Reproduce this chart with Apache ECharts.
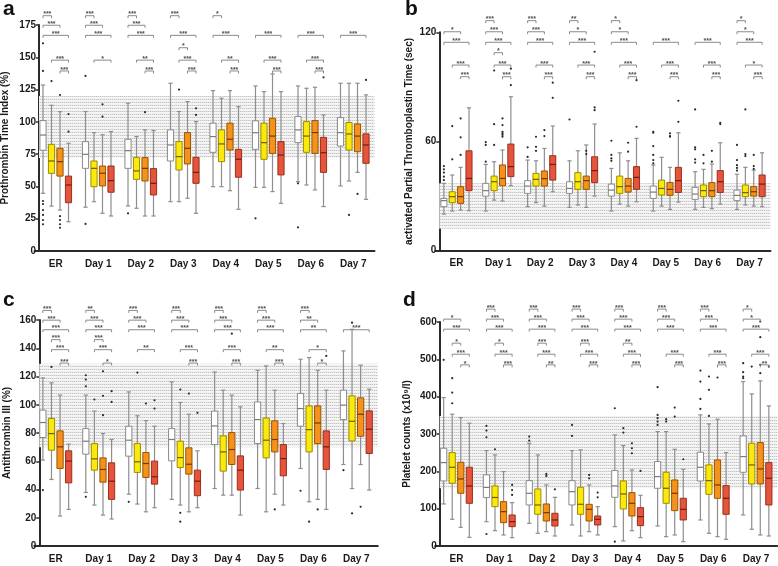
<!DOCTYPE html>
<html><head><meta charset="utf-8">
<script src="https://cdn.jsdelivr.net/npm/echarts@6/dist/echarts.min.js"></script>
<style>html,body{margin:0;padding:0;background:#fff}#c{width:778px;height:566px}</style>
</head><body><div id="c"></div>
<script>
const categories = ['ER','Day 1','Day 2','Day 3','Day 4','Day 5','Day 6','Day 7'];
// box stats: [min, q1, median, q3, max]
// ---- a: Prothrombin Time Index (%)
const ptiTicks = [0,25,50,75,100,125,150,175];
const ptiRange = [72,120];
const ptiWhite = [[44.7,78,89.8,101,128.5],[33.9,64,74.9,84.7,108],[34.9,64,77.7,86.5,114.4],[38.2,69.7,82.1,93.8,129.9],[49.8,76.4,88.6,99,124.2],[49.3,78.7,91.6,100.8,127.8],[53.7,83.9,93.8,104.1,127.8],[50.4,81.3,91.7,103.3,129.9]];
const ptiYellow = [[34.8,60.1,69.7,82.6,112.8],[38.2,49.8,64,69.7,91.7],[33.1,55.5,62,72.5,88.6],[38.2,62.7,73.1,84.7,108],[49.8,69.2,82.9,93.8,118.3],[49.3,71,83.9,99,123.4],[51.1,76.4,89,100.2,126],[54.2,78.2,90.6,99.5,129.9]];
const ptiOrange = [[31.7,58,69.2,79.5,107.9],[29.2,50.4,60.2,65.8,90],[27.1,54.2,64,72.3,93.8],[40.8,67.4,79.5,91.7,115.7],[46.7,78.2,86.5,99,124.2],[46,75.6,89,102.8,137.1],[47.3,75.6,91.7,101,126.8],[60.9,76.9,89,98.4,129.9]];
const ptiRed = [[22.7,37.4,51.1,58,83.4],[27.1,45.5,54.5,65.8,92.5],[27.1,43.4,52.4,63.8,93.3],[29.2,52.4,60.9,72.5,100.2],[32.3,57.1,71,78.7,111.8],[36.9,58.9,74.3,84.7,123.4],[34.4,60.9,76.1,88,105.4],[40,67.9,82.1,90.7,120.9]];
// outliers: [category, group, value]
const ptiOutliers = [[0,0,160.8],[0,0,139.4],[0,0,38.7],[0,0,36.4],[0,0,31.7],[0,0,27.9],[0,0,24],[0,0,20.7],[1,0,135.6],[1,0,21],[2,0,29.2],[5,0,25.3],[6,0,52.4],[6,0,18.3],
 [0,1,131.6],[3,1,125],[7,1,27.9],
 [0,2,120.8],[0,2,27],[0,2,24],[0,2,20.7],[0,2,18],[1,2,113.6],[1,2,104],[2,2,107.5],[7,2,44.2],
 [0,3,106],[0,3,92.4],[3,3,110.5],[3,3,105.4],[6,3,134.5],[7,3,132.5]];
// significance: [category, pair, stars]; pairs: 0 W-Y,1 W-O,2 W-R,3 Y-O,4 Y-R,5 O-R
const ptiRows = [182.2,174.8,167,157.4,147.8,139.4];
const ptiSig = [[0,0,3],[0,1,3],[0,2,3],[0,4,3],[0,5,3],
 [1,0,3],[1,1,3],[1,2,3],[1,4,1],
 [2,0,3],[2,1,3],[2,2,3],[2,4,2],[2,5,3],
 [3,0,3],[3,2,3],[3,3,1],[3,4,3],[3,5,3],
 [4,0,1],[4,2,3],[4,4,2],[4,5,3],
 [5,2,3],[5,4,3],[5,5,3],
 [6,2,3],[6,4,3],[6,5,3],
 [7,2,3]];

// ---- b: aPTT (sec)
const apttTicks = [0,60,120];
const apttRange = [12,37];
const apttWhite = [[20.1,24.2,27.5,28.7,37],[21.8,30,33,37,47.4],[24.2,31.5,35.5,38.5,49.8],[23.8,31.5,34.2,37.9,49.4],[21.8,30,33.3,36.6,45.2],[21.8,28.7,32.2,35.5,47.1],[22.7,28.2,31.1,34.8,43.4],[22.7,27.5,30.4,33.3,42]];
const apttYellow = [[21.8,26.4,29.7,32.4,41.6],[27.8,33,37.9,41,48.9],[26.4,35.5,39.2,42.5,49.4],[25.1,33.7,37.9,42.9,54.9],[25.6,31.5,35.2,41,53.8],[24.5,30.6,34.2,38.8,51.3],[23.8,29.7,33,36.1,44.7],[25.1,29.7,31.9,36.1,45.8]];
const apttOrange = [[22.3,26,29.7,35.2,45.8],[27.3,35.7,39.7,47.1,55.3],[24.5,35.5,39.6,43.8,56.2],[23.8,33.7,38.5,41,58.1],[24.5,32.2,35.5,39.7,49.4],[22.7,30.4,33.7,37.5,45.8],[23.1,29.7,33,37.4,47.6],[24.5,30,32.4,35.2,44.3]];
const apttRed = [[22,33,39.7,54.9,78.5],[35.7,40.7,46.2,58.6,84.6],[32.4,38.8,47.4,52.2,68.5],[30,37.4,44,51.6,69.6],[26.9,33.7,40.3,46.2,61.7],[26.7,32,38.5,45.8,64.8],[25.6,32,37.9,44,59.3],[24.2,29.7,36.6,41.6,53.8]];
const apttOutliers = [[0,0,46.5],[0,0,44.7],[0,0,42.9],[0,0,40.7],[0,0,38.8],[1,0,59.7],[1,0,58.1],[1,0,48.9],[2,0,56.8],[2,0,51.5],[3,0,72.1],[4,0,60.4],[4,0,52.6],[4,0,50.7],[4,0,49.4],[5,0,64.8],[5,0,57.5],[5,0,52.6],[5,0,49.8],[5,0,48],[5,0,65.3],[6,0,56.8],[6,0,55.7],[6,0,50.2],[6,0,48.4],[6,0,77.6],[7,0,58.1],[7,0,49.8],[7,0,47],[7,0,45.5],[7,0,44],
 [0,1,50.2],[0,1,68.5],[1,1,58.1],[1,1,69.5],[1,1,99],[2,1,57.1],[2,1,54.9],[2,1,62.6],[6,1,52.6],[6,1,48],[7,1,53.1],[7,1,52],[7,1,77.6],
 [0,2,52.6],[0,2,62.3],[0,2,72.7],[1,2,64.5],[1,2,63.6],[1,2,72.7],[1,2,69],[1,2,65.3],[1,2,62.6],[2,2,66.3],[2,2,63],[3,2,54.9],[3,2,53.1],[4,2,59.3],[4,2,54.4],[5,2,64.5],[5,2,63],[5,2,62.6],[6,2,54.9],[6,2,48.9],[7,2,52.6],[7,2,46.5],[7,2,45],
 [1,3,91],[1,3,100],[2,3,84],[2,3,92.3],[3,3,78.7],[3,3,77.2],[3,3,109.3],[4,3,68.1],[4,3,93.7],[5,3,82.4],[5,3,70.8],[6,3,69.6],[6,3,70.3]];
const apttRows = [126.4,120.3,114.5,108.8,102,95.6];
const apttSig = [[0,1,1],[0,2,3],[0,4,3],[0,5,3],
 [1,0,3],[1,1,3],[1,2,3],[1,3,1],[1,4,3],[1,5,3],
 [2,0,3],[2,1,3],[2,2,3],[2,4,3],[2,5,3],
 [3,0,2],[3,1,1],[3,2,3],[3,4,3],[3,5,3],
 [4,0,1],[4,1,1],[4,2,3],[4,4,3],[4,5,3],
 [5,2,3],[5,4,3],[5,5,3],
 [6,2,3],[6,4,3],[6,5,3],
 [7,0,1],[7,1,1],[7,2,3],[7,4,1],[7,5,3]];

// ---- c: Antithrombin III (%)
const atTicks = [0,20,40,60,80,100,120,140,160];
const atRange = [70,129];
const atWhite = [[60.8,76.8,87.4,96.2,119],[37.9,65,74.2,83.1,106.8],[36.7,63.6,74.9,84.8,109.1],[33,60.3,75.4,83.1,116.2],[40.7,71.8,85,95.5,123.2],[40.7,72.5,89.5,102,124.4],[54.9,84.8,97.3,108,132.2],[57.7,89.5,99.7,110.3,138.1]];
const atYellow = [[47.1,67.8,79.6,90.3,115.5],[29,53.7,61.7,72.5,95.5],[29.7,52.1,59.6,72.5,92.2],[29,55.6,62.6,74.2,101.6],[36,53,66.6,78,110.3],[24.2,62.4,74.9,90.6,127.5],[31.3,66.6,82.4,99.2,133.4],[40.7,74.4,88.3,106.3,153.4]];
const atOrange = [[21.2,54.9,70.2,81.5,106.8],[21.9,45.2,54.2,62.4,79.6],[24.2,48.5,58.4,66.2,88.8],[24.2,50.9,57.9,69.5,93.3],[36,57.7,68.3,80.3,106.8],[36.7,66.6,75.4,88.6,110.3],[33,72.5,87.1,99.2,124.4],[57.7,77.7,93.3,104.9,128]];
const atRed = [[25.9,44.7,60.1,67.4,72.1],[19.1,33,45.9,58.9,75.4],[27.1,43.8,49,60.1,84.8],[27.1,35.6,45.9,53.7,67.4],[21.9,39.6,53.7,63.8,98.5],[29,49.7,61.9,71.8,86.7],[25.9,54.2,70.2,81.5,110.3],[39.6,65.5,82.7,95.7,111]];
const atOutliers = [[0,0,39.6],[1,0,120.9],[1,0,117.8],[1,0,113.1],[1,0,34.8],[2,0,31.3],[6,0,39.1],[7,0,53.7],
 [0,1,126.8],[1,1,103.7],[2,1,122.8],[3,1,110.8],[3,1,23.5],[3,1,17.2],[6,1,17.2],[7,1,158.1],[7,1,23.1],
 [1,2,123.7],[1,2,106.3],[1,2,92.6],[2,2,100.9],[3,2,107.9],[4,2,150.3],[5,2,25.9],[6,2,25.9],[7,2,27.8],
 [1,3,109.6],[1,3,102],[2,3,103.2],[2,3,97.3],[3,3,94.3],[6,3,134.6]];
const atRows = [166.8,159.9,153.1,146.1,139,129.5];
const atSig = [[0,0,3],[0,1,3],[0,2,3],[0,3,3],[0,4,3],[0,5,3],
 [1,0,2],[1,1,3],[1,2,3],[1,3,3],[1,4,3],[1,5,1],
 [2,0,3],[2,1,3],[2,2,3],[2,4,2],
 [3,0,3],[3,1,3],[3,2,3],[3,4,3],[3,5,3],
 [4,0,3],[4,1,3],[4,2,3],[4,4,3],[4,5,3],
 [5,0,3],[5,1,3],[5,2,3],[5,4,2],[5,5,3],
 [6,0,3],[6,1,2],[6,2,2],[6,4,1],[6,5,1],
 [7,2,3]];

// ---- d: Platelet counts (x10^9/l)
const pltTicks = [0,100,200,300,400,500,600];
const pltRange = [155,348];
const pltWhite = [[112.6,174.2,223.4,261.8,397.6],[65.2,129.6,157,190.7,255.6],[60.7,109.9,141.2,175.1,275.2],[56.3,109.9,145.6,175.1,255.6],[51.8,130.4,160.8,202,297.6],[53.6,154.6,185.9,226.1,306.5],[69.7,174.2,210.9,251.1,351.2],[83.1,197.5,239.5,294.9,440.5]];
const pltYellow = [[71.5,168,210.9,250.2,353],[41.1,105.4,130,161,244],[34,84.9,109.9,152.8,244],[26.8,84.9,111.7,157.3,257.4],[13.4,99.2,139.4,174.2,269],[25,114.4,154.6,197.5,306.5],[34,138.5,175.1,217.2,327.1],[44.7,166.2,217.2,275.2,407.5]];
const pltOrange = [[50,141.2,179.6,224.3,344],[29.5,62.5,92,118.8,199.3],[38.4,67,89.3,112.6,163.5],[38.4,67,98.3,111.7,163.5],[41.1,80.4,114.4,143,203.7],[29.5,94.7,141.2,176.9,259.1],[25,127.8,163.5,230.5,339.6],[29.5,166.2,206.4,277,442.3]];
const pltRed = [[23.2,114.4,160.8,210.9,328.9],[22.3,51.8,65.2,83.1,116.2],[26.8,53.6,69.7,87.6,130.4],[29.5,56.3,71.5,80.4,105.4],[22.3,54.5,78.6,102.7,135.8],[11.6,69.7,98.3,127.8,205.5],[17.9,84.9,127.8,161.7,250.2],[26.8,109.9,181.4,223.4,375.3]];
const pltOutliers = [[0,0,498.6],[1,0,321.7],[1,0,309.2],[1,0,291.3],[1,0,32.1],[2,0,293.1],[2,0,282.4],[3,0,324.4],[3,0,294.9],[4,0,369],[4,0,11.6],[5,0,425.3],[5,0,351.2],[5,0,342.3],[5,0,333.3],[5,0,324.4],[6,0,470],[6,0,440.5],[6,0,394],[6,0,367.2],[7,0,489.7],[7,0,465.6],[7,0,454],[7,0,449.5],
 [0,1,449.5],[0,1,411],[0,1,382.4],[1,1,259.1],[4,1,315.5],[4,1,303.8],[5,1,333.3],[5,1,339.6],[6,1,454],[6,1,418.2],[6,1,348.5],[7,1,480.7],
 [2,2,187.6],[2,2,193],[3,2,190.3],[3,2,181.4],[4,2,275.2],[4,2,261.8],[4,2,248.4],[5,2,370.8],[5,2,346.7],[6,2,451.3],[7,2,462.9],[7,2,485.2],[7,2,559.4],[7,2,601.4],
 [1,3,163.5],[1,3,150],[1,3,136.7],[2,3,151.9],[3,3,143],[3,3,130.4],[4,3,201],[5,3,232.3],[7,3,480.7]];
const pltRows = [634.5,607.7,580.8,543.3,513.8,485.2];
const pltSig = [[0,1,1],[0,2,3],[0,3,1],[0,4,3],[0,5,1],
 [1,0,3],[1,1,3],[1,2,3],[1,3,1],[1,4,3],[1,5,3],
 [2,0,3],[2,1,3],[2,2,3],[2,3,3],[2,4,3],[2,5,2],
 [3,0,3],[3,1,3],[3,2,3],[3,3,3],[3,4,3],[3,5,3],
 [4,0,3],[4,1,3],[4,2,3],[4,3,2],[4,4,3],[4,5,3],
 [5,0,3],[5,1,3],[5,2,3],[5,4,3],[5,5,3],
 [6,0,3],[6,1,3],[6,2,3],[6,4,3],[6,5,3],
 [7,0,1],[7,1,1],[7,2,3],[7,4,3],[7,5,2]];

const PAIRS = [[0,1],[0,2],[0,3],[1,2],[1,3],[2,3]];
const FONT = '"Liberation Sans", Arial, sans-serif';
const WHISKER = '#8e8e8e';
const groupStyles = [
  {fill:'#ffffff', stroke:'#8a8a8a', med:'#7a7a7a'},
  {fill:'#fbe80c', stroke:'#9c8c00', med:'#6e6000'},
  {fill:'#f4921c', stroke:'#9a5400', med:'#6e3a00'},
  {fill:'#e5543b', stroke:'#97301c', med:'#6e1e10'}
];

function makePattern(){
  const c = document.createElement('canvas'); c.width = 2; c.height = 3;
  const x = c.getContext('2d');
  x.fillStyle = '#f6f6f6'; x.fillRect(0,0,2,3);
  x.fillStyle = '#c2c2c2'; x.fillRect(0,0,1,1);
  x.fillStyle = '#e4e4e4'; x.fillRect(1,0,1,1);
  x.fillStyle = '#eeeeee'; x.fillRect(1,2,1,1);
  return {image: c, repeat: 'repeat'};
}
const pattern = makePattern();

function groupX(api, cat, g){
  const band = api.size([1,0])[0];
  return api.coord([cat,0])[0] + (g - 1.5) * band * 0.2;
}
function boxRender(g){
  return function(params, api){
    const cat = api.value(0);
    const band = api.size([1,0])[0];
    const x = groupX(api, cat, g);
    const w = band * 0.145, cw = band * 0.1;
    const yv = i => api.coord([cat, api.value(i)])[1];
    const yMin = yv(1), yQ1 = yv(2), yMed = yv(3), yQ3 = yv(4), yMax = yv(5);
    const s = groupStyles[g];
    const ws = {stroke: WHISKER, lineWidth: 1.2};
    return {type:'group', children:[
      {type:'line', shape:{x1:x,y1:yMax,x2:x,y2:yQ3}, style:ws},
      {type:'line', shape:{x1:x,y1:yQ1,x2:x,y2:yMin}, style:ws},
      {type:'line', shape:{x1:x-cw/2,y1:yMax,x2:x+cw/2,y2:yMax}, style:ws},
      {type:'line', shape:{x1:x-cw/2,y1:yMin,x2:x+cw/2,y2:yMin}, style:ws},
      {type:'rect', shape:{x:x-w/2,y:yQ3,width:w,height:yQ1-yQ3}, style:{fill:s.fill, stroke:s.stroke, lineWidth:1}},
      {type:'line', shape:{x1:x-w/2,y1:yMed,x2:x+w/2,y2:yMed}, style:{stroke:s.med, lineWidth:1.2}}
    ]};
  };
}
function outlierRender(params, api){
  const cat = api.value(0), g = api.value(1);
  const x = groupX(api, cat, g);
  const y = api.coord([cat, api.value(2)])[1];
  return {type:'circle', shape:{cx:x, cy:y, r:1.1}, style:{fill:'#2a2a2a'}};
}
function bracketRender(params, api){
  const cat = api.value(0), lvl = api.value(1), g1 = api.value(2), g2 = api.value(3), n = api.value(4);
  const x1 = groupX(api, cat, g1), x2 = groupX(api, cat, g2);
  const y = api.coord([cat, lvl])[1];
  return {type:'group', children:[
    {type:'polyline', shape:{points:[[x1,y+2.5],[x1,y],[x2,y],[x2,y+2.5]]}, style:{stroke:'#8a8a8a', lineWidth:1, fill:'none'}},
    {type:'text', style:{text:'*'.repeat(n), x:(x1+x2)/2, y:y-1.2, textAlign:'center', textVerticalAlign:'middle', font:'bold 7px ' + FONT, fill:'#505050'}}
  ]};
}
function bandRender(shift){
  return function(params, api){
    const cs = params.coordSys;
    const yLo = api.coord([0, api.value(1)])[1], yHi = api.coord([0, api.value(2)])[1];
    return {type:'rect', shape:{x:cs.x+shift, y:yHi, width:cs.width-shift, height:yLo-yHi}, style:{fill:pattern}};
  };
}

const panels = [
  {grid:{left:34.5, top:25, width:340, height:226}, shift:4.5, ticks:ptiTicks, range:ptiRange, name:'Prothrombin Time Index (%)', gap:29,
   groups:[ptiWhite,ptiYellow,ptiOrange,ptiRed], out:ptiOutliers, sig:ptiSig, rows:ptiRows},
  {grid:{left:435.5, top:32.3, width:335, height:218.4}, shift:3.8, ticks:apttTicks, range:apttRange, name:'activated Partial Thromboplastin Time (sec)', gap:25,
   groups:[apttWhite,apttYellow,apttOrange,apttRed], out:apttOutliers, sig:apttSig, rows:apttRows},
  {grid:{left:34.3, top:320, width:343.5, height:226}, shift:5, ticks:atTicks, range:atRange, name:'Antithrombin III (%)', gap:27,
   groups:[atWhite,atYellow,atOrange,atRed], out:atOutliers, sig:atSig, rows:atRows},
  {grid:{left:435.1, top:322, width:342.3, height:224}, shift:4.6, ticks:pltTicks, range:pltRange, name:'Platelet counts (x10\u2079/l)', gap:27,
   groups:[pltWhite,pltYellow,pltOrange,pltRed], out:pltOutliers, sig:pltSig, rows:pltRows}
];

const grids = [], xAxes = [], yAxes = [], series = [];
panels.forEach((p, i) => {
  grids.push(Object.assign({outerBoundsMode:'none', containLabel:false}, p.grid));
  xAxes.push({type:'category', gridIndex:i, data:categories, boundaryGap:true,
    axisLine:{show:true, onZero:false, lineStyle:{color:'#2b2b2b', width:2}},
    axisTick:{show:false},
    axisLabel:{interval:0, margin:8, color:'#1a1a1a', fontWeight:'bold', fontSize:10, fontFamily:FONT},
    splitLine:{show:false}});
  const t = p.ticks;
  yAxes.push({type:'value', gridIndex:i, min:t[0], max:t[t.length-1], interval:t[1]-t[0], offset:-p.shift,
    axisLine:{show:true, lineStyle:{color:'#2b2b2b', width:2}},
    axisTick:{show:true, length:3, lineStyle:{color:'#2b2b2b', width:1.5}},
    axisLabel:{margin:3, color:'#1a1a1a', fontWeight:'bold', fontSize:10, fontFamily:FONT},
    splitLine:{show:false},
    name:p.name, nameLocation:'middle', nameGap:p.gap, nameRotate:90, nameMoveOverlap:false,
    nameTextStyle:{color:'#1a1a1a', fontWeight:'bold', fontSize:10, fontFamily:FONT}});
  series.push({type:'custom', xAxisIndex:i, yAxisIndex:i, z:1, silent:true, clip:false,
    renderItem:bandRender(p.shift), data:[[0, p.range[0], p.range[1]]], encode:{x:0, y:[1,2]}});
  p.groups.forEach((stats, g) => {
    series.push({type:'custom', xAxisIndex:i, yAxisIndex:i, z:2, silent:true, clip:false,
      renderItem:boxRender(g), data:stats.map((s, c) => [c].concat(s)), encode:{x:0, y:[1,2,3,4,5]}});
  });
  series.push({type:'custom', xAxisIndex:i, yAxisIndex:i, z:3, silent:true, clip:false,
    renderItem:outlierRender, data:p.out, encode:{x:0, y:2}});
  series.push({type:'custom', xAxisIndex:i, yAxisIndex:i, z:3, silent:true, clip:false,
    renderItem:bracketRender, data:p.sig.map(([c, pr, n]) => [c, p.rows[pr], PAIRS[pr][0], PAIRS[pr][1], n]), encode:{x:0, y:1}});
});

const letters = [['a',3,9],['b',405,9],['c',3,300],['d',403,300]];
const chart = echarts.init(document.getElementById('c'), null, {renderer:'canvas'});
chart.setOption({
  animation:false,
  backgroundColor:'#ffffff',
  grid:grids, xAxis:xAxes, yAxis:yAxes, series:series,
  graphic: letters.map(([t,x,y]) => ({type:'text', x:x, y:y, style:{text:t, font:'bold 21px ' + FONT, fill:'#111', textVerticalAlign:'middle'}}))
});
</script></body></html>
